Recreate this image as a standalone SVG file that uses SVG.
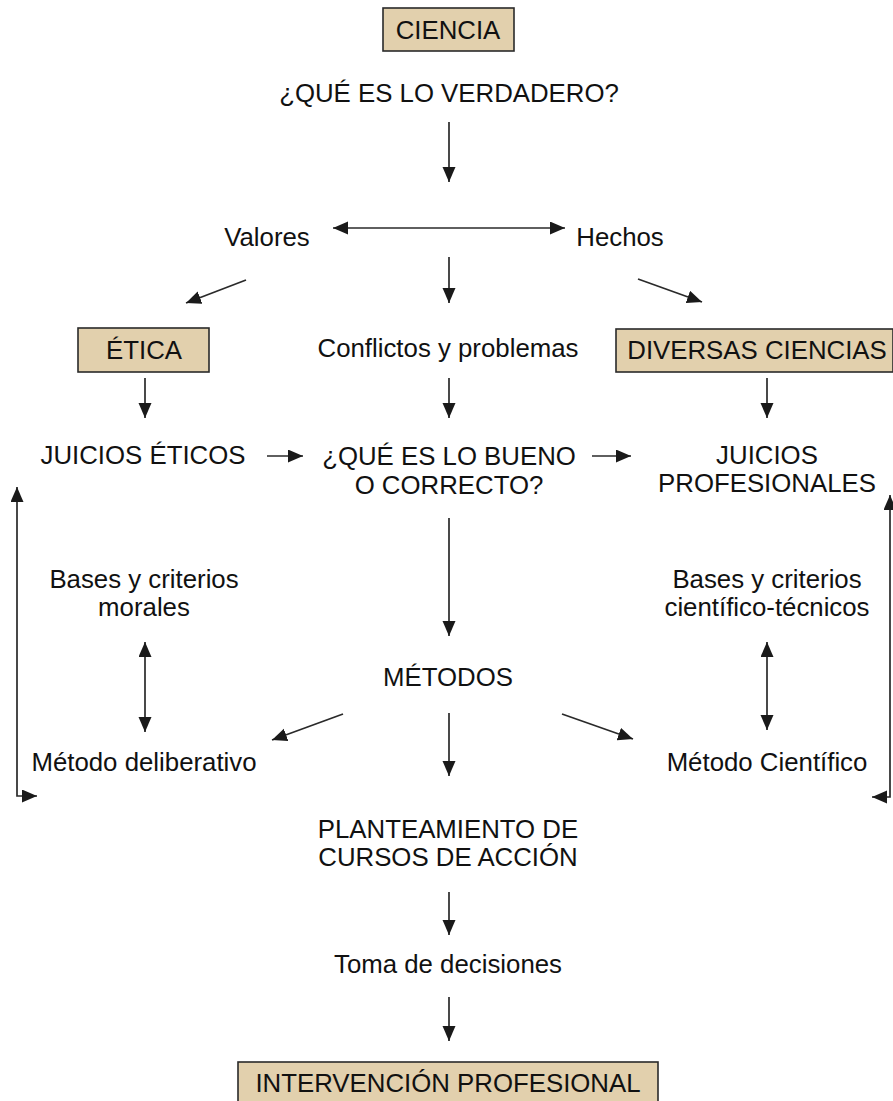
<svg xmlns="http://www.w3.org/2000/svg" width="893" height="1101" viewBox="0 0 893 1101">
<style>
text{font-family:"Liberation Sans",Arial,sans-serif;font-size:25.8px;fill:#111;text-anchor:middle}
.box{fill:#e2d0ad;stroke:#2a2a2a;stroke-width:1.6}
.c{stroke:#2a2a2a;stroke-width:1.7;fill:none;marker-end:url(#ah)}
.d{stroke:#2a2a2a;stroke-width:1.7;fill:none;marker-end:url(#ah);marker-start:url(#ah)}
</style>
<defs>
<marker id="ah" markerUnits="userSpaceOnUse" markerWidth="16" markerHeight="14" refX="15" refY="6.5" orient="auto-start-reverse">
<path d="M0,0 L15,6.5 L0,13 z" fill="#1a1a1a"/>
</marker>
</defs>
<rect width="893" height="1101" fill="#fff"/>
<g id="ciencia"><rect class="box" x="383" y="8" width="131" height="43"/><text x="448" y="39">CIENCIA</text></g>
<g id="verdadero"><text x="449" y="102">¿QUÉ ES LO VERDADERO?</text></g>
<g id="valores"><text x="267" y="246">Valores</text></g>
<g id="hechos"><text x="620" y="246">Hechos</text></g>
<g id="etica"><rect class="box" x="78" y="328" width="131" height="44"/><text x="144" y="359">ÉTICA</text></g>
<g id="conflictos"><text x="448" y="357">Conflictos y problemas</text></g>
<g id="diversas"><rect class="box" x="616" y="329" width="277" height="43"/><text x="757" y="359">DIVERSAS CIENCIAS</text></g>
<g id="juicios-eticos"><text x="143" y="464">JUICIOS ÉTICOS</text></g>
<g id="bueno"><text x="449" y="465">¿QUÉ ES LO BUENO</text><text x="449" y="494">O CORRECTO?</text></g>
<g id="juicios-prof"><text x="767" y="464">JUICIOS</text><text x="767" y="492">PROFESIONALES</text></g>
<g id="bases-morales"><text x="144" y="588">Bases y criterios</text><text x="144" y="616">morales</text></g>
<g id="bases-cient"><text x="767" y="588">Bases y criterios</text><text x="767" y="616">científico-técnicos</text></g>
<g id="metodos"><text x="448" y="686">MÉTODOS</text></g>
<g id="deliberativo"><text x="144" y="771">Método deliberativo</text></g>
<g id="cientifico"><text x="767" y="771">Método Científico</text></g>
<g id="planteamiento"><text x="448" y="838">PLANTEAMIENTO DE</text><text x="448" y="866">CURSOS DE ACCIÓN</text></g>
<g id="toma"><text x="448" y="973">Toma de decisiones</text></g>
<g id="intervencion"><rect class="box" x="238" y="1062" width="420" height="50"/><text x="448" y="1092">INTERVENCIÓN PROFESIONAL</text></g>
<g id="connectors">
<line class="c" x1="449" y1="122" x2="449" y2="182"/>
<line class="d" x1="333" y1="228" x2="565" y2="228"/>
<line class="c" x1="246" y1="280" x2="186" y2="303"/>
<line class="c" x1="449" y1="257" x2="449" y2="303"/>
<line class="c" x1="638" y1="279" x2="702" y2="302"/>
<line class="c" x1="145" y1="378" x2="145" y2="418"/>
<line class="c" x1="449" y1="378" x2="449" y2="418"/>
<line class="c" x1="767" y1="378" x2="767" y2="418"/>
<line class="c" x1="267" y1="456" x2="303" y2="456"/>
<line class="c" x1="592" y1="456" x2="631" y2="456"/>
<line class="c" x1="449" y1="518" x2="449" y2="636"/>
<line class="d" x1="145" y1="642" x2="145" y2="732"/>
<line class="d" x1="767" y1="642" x2="767" y2="730"/>
<line class="c" x1="343" y1="714" x2="272" y2="740"/>
<line class="c" x1="449" y1="713" x2="449" y2="776"/>
<line class="c" x1="562" y1="714" x2="633" y2="739"/>
<polyline class="d" points="37,796 17,796 17,487"/>
<polyline class="d" points="872,797 890,797 890,495"/>
<line class="c" x1="449" y1="892" x2="449" y2="935"/>
<line class="c" x1="449" y1="997" x2="449" y2="1041"/>
</g>
</svg>
